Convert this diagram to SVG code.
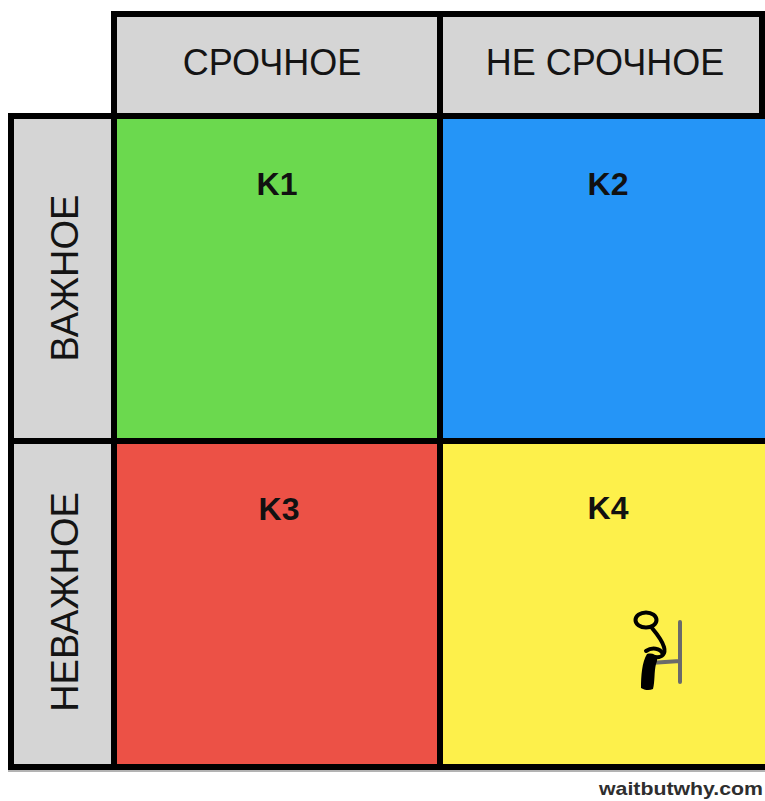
<svg xmlns="http://www.w3.org/2000/svg" width="765" height="801" viewBox="0 0 765 801">
  <style>
    .hdr { fill: #d5d5d5; }
    .lbl { font-family: "Liberation Sans", Arial, Helvetica, sans-serif; font-size: 36px; fill: #141414; text-anchor: middle; }
    .side { font-size: 38px; }
    .q { font-family: "Liberation Sans", Arial, Helvetica, sans-serif; font-weight: bold; font-size: 32px; fill: #111; text-anchor: middle; }
    .grid { stroke: #000; stroke-width: 6; fill: none; stroke-linecap: square; }
    .ink { stroke: #000; stroke-width: 4; fill: none; stroke-linecap: round; stroke-linejoin: round; }
    .chair { stroke: #6a6a6a; stroke-width: 4; fill: none; stroke-linecap: round; }
  </style>

  <rect x="0" y="0" width="765" height="801" fill="#ffffff"/>

  <!-- column headers -->
  <g id="hdr-urgent">
    <rect class="hdr" x="114" y="14" width="326" height="102"/>
    <text class="lbl" x="272" y="75">СРОЧНОЕ</text>
  </g>
  <g id="hdr-not-urgent">
    <rect class="hdr" x="440" y="14" width="322" height="102"/>
    <text class="lbl" x="605" y="75">НЕ СРОЧНОЕ</text>
  </g>

  <!-- row headers -->
  <g id="hdr-important">
    <rect class="hdr" x="11" y="116" width="103" height="325"/>
    <text class="lbl side" transform="translate(77.5,278) rotate(-90)">ВАЖНОЕ</text>
  </g>
  <g id="hdr-unimportant">
    <rect class="hdr" x="11" y="441" width="103" height="326"/>
    <text class="lbl side" transform="translate(77.5,602) rotate(-90)">НЕВАЖНОЕ</text>
  </g>

  <!-- quadrants -->
  <g id="k1">
    <rect x="114" y="116" width="326" height="325" fill="#6bd94e"/>
    <text class="q" x="277" y="195">K1</text>
  </g>
  <g id="k2">
    <rect x="440" y="116" width="325" height="325" fill="#2595f7"/>
    <text class="q" x="608" y="195">K2</text>
  </g>
  <g id="k3">
    <rect x="114" y="441" width="326" height="326" fill="#ec5146"/>
    <text class="q" x="279" y="520">K3</text>
  </g>
  <g id="k4">
    <rect x="440" y="441" width="325" height="326" fill="#fdf04b"/>
    <text class="q" x="608" y="519">K4</text>
    <!-- stick figure sitting on a chair -->
    <g id="sitter">
      <path class="chair" d="M680,622 V682 M650,663 L680,661 M652,663 V680"/>
      <ellipse class="ink" cx="646" cy="620" rx="10.5" ry="7.5"/>
      <path class="ink" d="M652,628 C657,634 662,640 664,647 C666,654 662,658 655,657"/>
      <path class="ink" d="M646,651 C652,647 660,648 663,654"/>
      <path d="M647,654 C656,652 659,658 656,664 C654,672 655,682 653,689 C649,691 644,690 641,688 C641,676 642,662 647,654 Z" fill="#000"/>
    </g>
  </g>

  <!-- grid rules -->
  <g id="rules">
    <line x1="8" y1="771" x2="765" y2="771" stroke="#9a9a9a" stroke-width="1.5"/>
    <path class="grid" d="M114,14 H762 V116 M11,116 H768 M11,441 H768 M11,767 H768 M11,116 V767 M114,14 V767 M440,14 V767"/>
  </g>

  <text x="763" y="795" font-family="'Liberation Sans', Arial, Helvetica, sans-serif" font-weight="bold" font-size="19" fill="#2e2e2e" text-anchor="end" textLength="164" lengthAdjust="spacingAndGlyphs">waitbutwhy.com</text>
</svg>
